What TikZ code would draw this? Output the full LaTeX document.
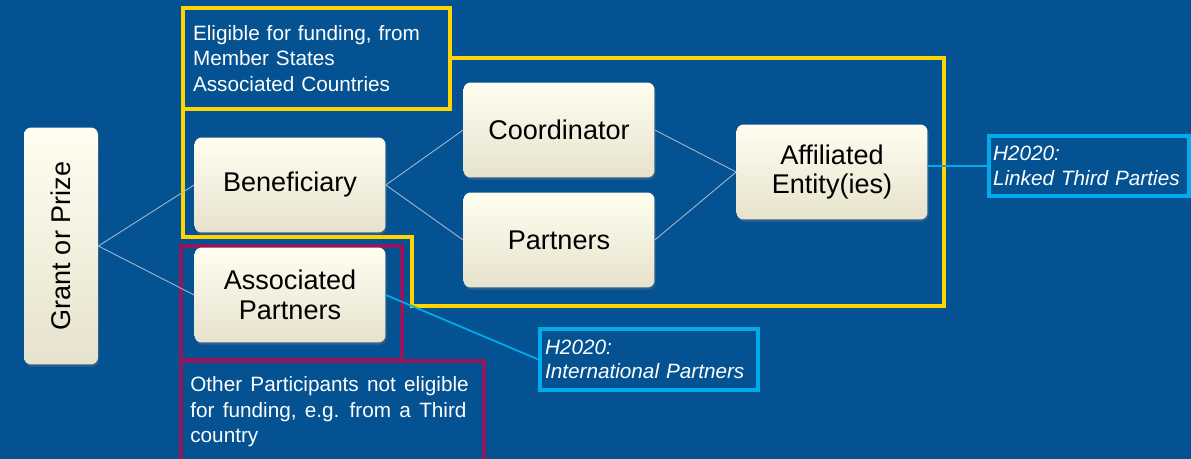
\documentclass[tikz,border=0pt]{standalone}
\usepackage{fontspec}
\setmainfont{Liberation Sans}
\usepackage{xcolor}
\usetikzlibrary{shadows}

\definecolor{bgblue}{RGB}{4,82,146}
\definecolor{frameyellow}{RGB}{255,212,0}
\definecolor{framepurple}{RGB}{145,24,92}
\definecolor{linkcyan}{RGB}{0,172,236}
\definecolor{conngrey}{RGB}{165,182,205}
\definecolor{creamtop}{RGB}{255,254,240}
\definecolor{creambot}{RGB}{230,226,205}

\protected\def\notespace{\spaceskip=0.4em\relax}
\protected\def\hnotespace{\spaceskip=0.36em\relax}

\tikzset{
  box/.style={rounded corners=4pt, top color=creamtop, bottom color=creambot,
    minimum width=3.82cm, minimum height=1.9cm, align=center,
    font=\fontsize{15.4}{17}\selectfont,
    drop shadow={opacity=0.35, shadow xshift=0.6pt, shadow yshift=-1.2pt}},
  conn/.style={draw=conngrey, line width=0.5pt},
  note/.style={text=white, font=\fontsize{11.8}{14.6}\selectfont\notespace, align=left},
  hnote/.style={note, font=\fontsize{11.8}{14}\selectfont\itshape\hnotespace,
    draw=linkcyan, line width=1.8pt}
}

\begin{document}
\begin{tikzpicture}[x=0.02cm, y=-0.02cm]

        % background
        \useasboundingbox (0, 0) rectangle (1191, 459);
        \clip (0, 0) rectangle (1191, 459);
        \fill [bgblue] (0, 0) rectangle (1191, 459);

        % yellow frame, eligible for funding
        \node[note, draw=frameyellow, line width=1.8pt, text width=4.94cm, inner xsep=0.2cm, minimum height=2.02cm] (elig) at (316.5, 58.5) {Eligible for funding, from\\Member States\\Associated Countries};
        \draw [line width=1.8pt, frameyellow] (183, 109) -- (183, 237) -- (412, 237) -- (412, 306) -- (944, 306) -- (944, 58) -- (450, 58);

        % purple frame, not eligible
        \draw [line width=1.8pt, framepurple] (181, 360) rectangle (402, 246);
        \draw [line width=1.8pt, framepurple] (181, 470) -- (181, 361) -- (484, 361) -- (484, 470);
        \node[note, anchor=north west, inner sep=0] (other) at (190, 376) {Other Participants not eligible\\for funding, e.g. from a Third\\country};

        % boxes
        \node[box, rotate=90, minimum width=4.74cm, minimum height=1.48cm] (grant) at (61, 246) {Grant or Prize};
        \node[box] (ben) at (290, 185) {Beneficiary};
        \node[box] (assoc) at (290, 295) {Associated\\Partners};
        \node[box] (coord) at (559, 130) {Coordinator};
        \node[box] (part) at (559, 240) {Partners};
        \node[box] (aff) at (832, 172) {Affiliated\\Entity(ies)};

        % connectors
        \draw [conn] (grant.south) -- (ben.west);
        \draw [conn] (grant.south) -- (assoc.west);
        \draw [conn] (ben.east) -- (coord.west);
        \draw [conn] (ben.east) -- (part.west);
        \draw [conn] (coord.east) -- (aff.west);
        \draw [conn] (part.east) -- (aff.west);

        % H2020 notes
        \node[hnote, text width=3.84cm, inner xsep=0.08cm, minimum height=1.2cm] (linked) at (1089, 166) {H2020:\\Linked Third Parties};
        \node[hnote, text width=4.16cm, inner xsep=0.1cm, minimum height=1.22cm] (intl) at (649, 359.5) {H2020:\\International Partners};
        \draw [line width=1pt, linkcyan] (aff.east |- linked.west) -- (linked.west);
        \draw [line width=1pt, linkcyan] (assoc.east) -- (intl.west);

\end{tikzpicture}
\end{document}
